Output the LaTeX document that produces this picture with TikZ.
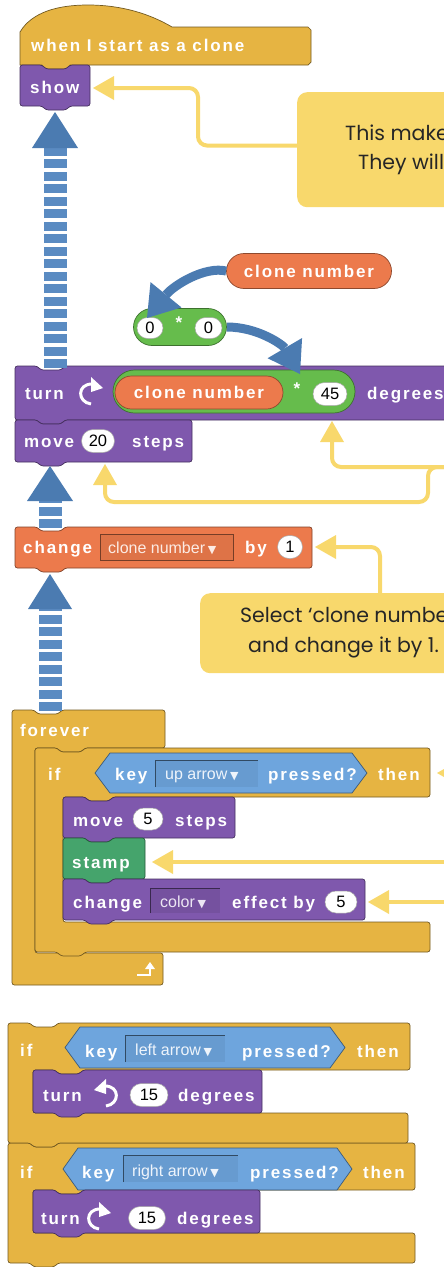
\documentclass[tikz,border=0pt]{standalone}
\usepackage{fontspec}
\setmainfont{Liberation Sans}
\newfontfamily\blkfont{Liberation Sans}[LetterSpace=11]
\newfontfamily\notefont{Poppins}
\newfontfamily\symfont{DejaVu Sans}
\usetikzlibrary{arrows.meta,shapes.misc}

\definecolor{ctrl}{HTML}{E6B442}
\definecolor{motion}{HTML}{7F58AD}
\definecolor{varor}{HTML}{EC7A4C}
\definecolor{opgr}{HTML}{66BC4C}
\definecolor{pengr}{HTML}{45A46C}
\definecolor{sense}{HTML}{6EA5DD}
\definecolor{bigblue}{HTML}{4B7BB1}
\definecolor{shaftblue}{HTML}{5A8BC2}
\definecolor{note}{HTML}{F8D86C}

% stack block: notch on top, tab underneath
\newcommand{\stackblk}[5]{%
  \filldraw[#5, rounded corners=2.5pt] (#1,#2) -- ({#1+22},#2) -- ({#1+26},{#2+4}) -- ({#1+46},{#2+4}) -- ({#1+50},#2) -- (#3,#2) -- (#3,#4)
    -- ({#1+50},#4) -- ({#1+46},{#4+4}) -- ({#1+26},{#4+4}) -- ({#1+22},#4) -- (#1,#4) -- cycle;}
% C block: x1, top, arm right, arm bottom, inner x, lower arm top, lower arm right, bottom, style
\newcommand{\cblk}[9]{%
  \filldraw[#9, rounded corners=2.5pt] (#1,#2) -- ({#1+22},#2) -- ({#1+26},{#2+4}) -- ({#1+46},{#2+4}) -- ({#1+50},#2) -- (#3,#2) -- (#3,#4)
    -- ({#5+50},#4) -- ({#5+46},{#4+4}) -- ({#5+26},{#4+4}) -- ({#5+22},#4) -- (#5,#4) -- (#5,#6) -- (#7,#6) -- (#7,#8)
    -- ({#1+50},#8) -- ({#1+46},{#8+4}) -- ({#1+26},{#8+4}) -- ({#1+22},#8) -- (#1,#8) -- cycle;}
% clockwise / anticlockwise turn glyphs
\newcommand{\cwicon}[2]{%
  \begin{scope}[shift={(#1,#2)}]
    \draw[white, line width=3pt] (1,11) .. controls (-13,9) and (-13,-9) .. (2,-9);
    \fill[white] (1,-16) -- (13,-5) -- (1,-1) -- cycle;
  \end{scope}}
\newcommand{\ccwicon}[2]{%
  \begin{scope}[shift={(#1,#2)}]
    \draw[white, line width=3pt] (-1,11) .. controls (13,9) and (13,-9) .. (-2,-9);
    \fill[white] (-1,-16) -- (-13,-5) -- (-1,-1) -- cycle;
  \end{scope}}
\newcommand{\dd}{\,{\symfont\fontsize{11}{12}\selectfont ▼}}

\begin{document}
\begin{tikzpicture}[x=1pt,y=-1pt,
  blk/.style={font=\blkfont\bfseries\fontsize{17}{19}\selectfont, text=white, inner sep=0pt, anchor=base west},
  fld/.style={font=\fontsize{16}{18}\selectfont, inner sep=0pt, anchor=base west},
  num/.style={rounded rectangle, fill=white, draw=black!35, line width=.5pt, inner sep=0pt, font=\fontsize{16.5}{18}\selectfont, text=black},
  pill/.style={rounded rectangle, inner sep=0pt, line width=.7pt, font=\blkfont\bfseries\fontsize{17}{19}\selectfont, text=white},
  motionblk/.style={fill=motion, draw=motion!55!black, line width=.7pt},
  varblk/.style={fill=varor, draw=varor!55!black, line width=.7pt},
  ctrlblk/.style={fill=ctrl, draw=ctrl!50!black, line width=.7pt},
  penblk/.style={fill=pengr, draw=pengr!55!black, line width=.7pt},
  hexblk/.style={fill=sense, draw=sense!55!black, line width=.7pt},
  ntxt/.style={font=\notefont\fontsize{20.5}{24}\selectfont, text=black!85, inner sep=0pt, anchor=base west},
  yline/.style={draw=note, line width=4pt, rounded corners=9pt, -{Triangle[width=24pt,length=21pt,line width=0pt]}},
  shaft/.style={draw=shaftblue, line width=23pt, dash pattern=on 9pt off 3.5pt},
  bluebend/.style={draw=bigblue, line width=9pt, -{Triangle[width=40pt,length=30pt,line width=0pt]}},
]
\clip (0,0) rectangle (444,1267);
\fill[white] (0,0) rectangle (444,1267);

% ---------- clone script ----------
\filldraw[ctrlblk] (20,65) -- (20,32) .. controls (32,12) and (58,5) .. (88,5) .. controls (122,5) and (150,14) .. (172,27)
  -- (308,27) -- (311,30) -- (311,62) -- (308,65) -- (70,65) -- (66,69) -- (46,69) -- (42,65) -- cycle;
\node[blk] (hat-t) at (31,51) {when I start as a clone};
\stackblk{20}{65}{90}{106}{motionblk}
\node[blk] (show-t) at (30,93) {show};

\stackblk{15}{366}{470}{420}{motionblk}
\node[blk] (turn-t) at (25,399) {turn};
\cwicon{90}{393}
\node[pill, fill=opgr, draw=opgr!60!black, minimum width=242pt, minimum height=43pt] (mul) at (234,391.5) {};
\node[pill, fill=varor, draw=varor!60!black, minimum width=168pt, minimum height=33pt] (cn-in) at (199,392.5) {clone number};
\node[blk, anchor=center] (star2) at (297,389) {*};
\node[num, minimum width=34pt, minimum height=23pt] (n45) at (330,394) {45};
\node[blk] (deg1) at (367,399) {degrees};

\stackblk{15}{420}{192}{462}{motionblk}
\node[blk] (move-t) at (24,447) {move};
\node[num, minimum width=33pt, minimum height=23pt] (n20) at (98,441) {20};
\node[blk] (steps-t) at (132,447) {steps};

\stackblk{15}{527}{312}{568}{varblk}
\node[blk] (chg-t) at (23,553) {change};
\filldraw[fill=varor!94!black, draw=varor!50!black, line width=.7pt] (100,534) rectangle (233,560);
\node[fld, text=white!85!varor] (chg-f) at (108,553) {clone number\dd};
\node[blk] (by-t) at (245,553) {by};
\node[num, minimum width=25pt, minimum height=23pt] (n1) at (290,547) {1};

% loose reporters
\node[pill, fill=varor, draw=varor!60!black, minimum width=165pt, minimum height=35pt] (cn-top) at (309,271) {clone number};
\node[pill, fill=opgr, draw=opgr!60!black, minimum width=93pt, minimum height=37pt] (mul-top) at (180,327) {};
\node[num, minimum width=26pt, minimum height=21pt] (z1) at (150,328) {0};
\node[num, minimum width=27pt, minimum height=21pt] (z2) at (208.5,328) {0};
\node[blk, anchor=center] (star1) at (179,323) {*};

% ---------- key loop ----------
\filldraw[ctrlblk, rounded corners=2.5pt] (12,710) -- (34,710) -- (38,714) -- (58,714) -- (62,710) -- (165,710) -- (165,748)
  -- (85,748) -- (81,752) -- (61,752) -- (57,748) -- (35,748) -- (35,953) -- (163,953) -- (163,985) -- (12,985) -- cycle;
\node[blk] (forever-t) at (20,736) {forever};
\draw[white, line width=2.2pt] (137,975) -- (150,975) -- (150,969);
\fill[white] (145,969) -- (155,969) -- (150,962) -- cycle;

\cblk{35}{748}{430}{797}{63}{922}{430}{952}{ctrlblk}
\node[blk] (if1-t) at (48,780) {if};
\filldraw[hexblk] (95,773) -- (110,753) -- (352,753) -- (367,773) -- (352,793) -- (110,793) -- cycle;
\node[blk] (key1) at (115,780) {key};
\fill[sense!94!black] (155,760) rectangle (258,787);
\draw[sense!45!black, line width=1pt] (155,787) -- (155,760) -- (258,760);
\node[fld, text=white!88!sense] (up-f) at (165,779) {up arrow\dd};
\node[blk] (pr1) at (268,780) {pressed?};
\node[blk] (then1) at (378,780) {then};

\stackblk{63}{797}{235}{838}{motionblk}
\node[blk] (move5-t) at (73,826) {move};
\node[num, minimum width=30pt, minimum height=22pt] (n5a) at (148,819) {5};
\node[blk] (steps5-t) at (175,826) {steps};
\stackblk{63}{838}{145}{879}{penblk}
\node[blk] (stamp-t) at (72,868) {stamp};
\stackblk{63}{879}{365}{920}{motionblk}
\node[blk] (chgfx-t) at (73,908) {change};
\fill[motion!92!black] (150,888) rectangle (220,913);
\draw[motion!45!black, line width=1pt] (150,913) -- (150,888) -- (220,888);
\node[fld, text=white!85!motion] (color-f) at (160,907) {color\dd};
\node[blk] (eff-t) at (232,908) {effect by};
\node[num, minimum width=32pt, minimum height=22pt] (n5b) at (341,902) {5};

% ---------- arrow keys ----------
\cblk{8}{1143}{415}{1190}{33}{1233}{415}{1263}{ctrlblk}
\cblk{8}{1023}{410}{1070}{33}{1113}{408}{1143}{ctrlblk}

\node[blk] (if2-t) at (20,1056) {if};
\filldraw[hexblk] (65,1047.5) -- (80,1027) -- (330,1027) -- (345,1047.5) -- (330,1068) -- (80,1068) -- cycle;
\node[blk] (key2) at (85,1057) {key};
\fill[sense!94!black] (125,1035) rectangle (225,1062);
\draw[sense!45!black, line width=1pt] (125,1062) -- (125,1035) -- (225,1035);
\node[fld, text=white!88!sense] (left-f) at (135,1055) {left arrow\dd};
\node[blk] (pr2) at (242,1057) {pressed?};
\node[blk] (then2) at (357,1057) {then};
\stackblk{33}{1070}{262}{1113}{motionblk}
\node[blk] (turnl-t) at (43,1101) {turn};
\ccwicon{107}{1095}
\node[num, minimum width=38pt, minimum height=23pt] (n15a) at (149,1095) {15};
\node[blk] (degl-t) at (178,1101) {degrees};

\node[blk] (if3-t) at (20,1178) {if};
\filldraw[hexblk] (63,1169) -- (78,1148) -- (337,1148) -- (352,1169) -- (337,1190) -- (78,1190) -- cycle;
\node[blk] (key3) at (82,1178) {key};
\fill[sense!94!black] (123,1155) rectangle (238,1182);
\draw[sense!45!black, line width=1pt] (123,1182) -- (123,1155) -- (238,1155);
\node[fld, text=white!88!sense] (right-f) at (132,1176) {right arrow\dd};
\node[blk] (pr3) at (250,1178) {pressed?};
\node[blk] (then3) at (363,1178) {then};
\stackblk{33}{1190}{260}{1233}{motionblk}
\node[blk] (turnr-t) at (41,1224) {turn};
\cwicon{98}{1218}
\node[num, minimum width=37pt, minimum height=23pt] (n15b) at (147,1218) {15};
\node[blk] (degr-t) at (177,1224) {degrees};

% ---------- notes ----------
\node[anchor=north west, fill=note, rounded corners=10pt, minimum width=183pt, minimum height=115pt, inner sep=0pt] (note1) at (297,92) {};
\node[ntxt] (note1-a) at (345,140) {This makes};
\node[ntxt] (note1-b) at (358,169) {They will};
\node[anchor=north west, fill=note, rounded corners=10pt, minimum width=280pt, minimum height=80pt, inner sep=0pt] (note2) at (200,593) {};
\node[ntxt] (note2-a) at (240,622) {Select ‘clone number};
\node[ntxt] (note2-b) at (248,652) {and change it by 1.};

% ---------- yellow pointers ----------
\coordinate (show-tip) at (93,88);
\coordinate (n45-tip) at (332,421);
\coordinate (move-tip) at (105,464);
\coordinate (one-tip) at (315,547);
\coordinate (note2-top) at (380,594);
\coordinate (turn-note) at (480,467);
\coordinate (then-note) at (480,773);
\coordinate (then-tip) at (437,773);
\coordinate (stamp-note) at (480,862);
\coordinate (stamp-tip) at (152,862);
\coordinate (fx-note) at (480,902);
\coordinate (fx-tip) at (368,902);

\draw[yline] ([yshift=4pt]note1.west) -- (198,145.5) -- (198,88) -- (show-tip);
\draw[yline] (turn-note) -- (332,467) -- (n45-tip);
\draw[yline] (turn-note) -- (428,467) -- (428,502) -- (105,502) -- (move-tip);
\draw[yline] (note2-top) -- (380,547) -- (one-tip);
\draw[yline] (then-note) -- (then-tip);
\draw[yline] (stamp-note) -- (stamp-tip);
\draw[yline] (fx-note) -- (fx-tip);

% ---------- blue flow arrows ----------
\coordinate (show-in) at (55,112);
\coordinate (turn-in) at (55,368);
\coordinate (move-in) at (50,466);
\coordinate (chg-top) at (50,528);
\coordinate (chg-in) at (50,574);
\coordinate (forever-top) at (50,711);

\draw[shaft] (turn-in) -- ([yshift=-36pt]show-in);
\fill[bigblue] (show-in) -- ++(23,36) -- ++(-46,0) -- cycle;
\draw[shaft] (chg-top) -- ([yshift=-35pt]move-in);
\fill[bigblue] (move-in) -- ++(23,35) -- ++(-46,0) -- cycle;
\draw[shaft] (forever-top) -- ([yshift=-35pt]chg-in);
\fill[bigblue] (chg-in) -- ++(22,35) -- ++(-44,0) -- cycle;

\coordinate (z1-in) at (147,318);
\coordinate (mul-in) at (300,374);
\draw[bluebend] (cn-top.west) .. controls (205,266) and (174,285) .. (z1-in);
\draw[bluebend] (mul-top.east) .. controls (258,327) and (283,345) .. (mul-in);
\end{tikzpicture}
\end{document}
